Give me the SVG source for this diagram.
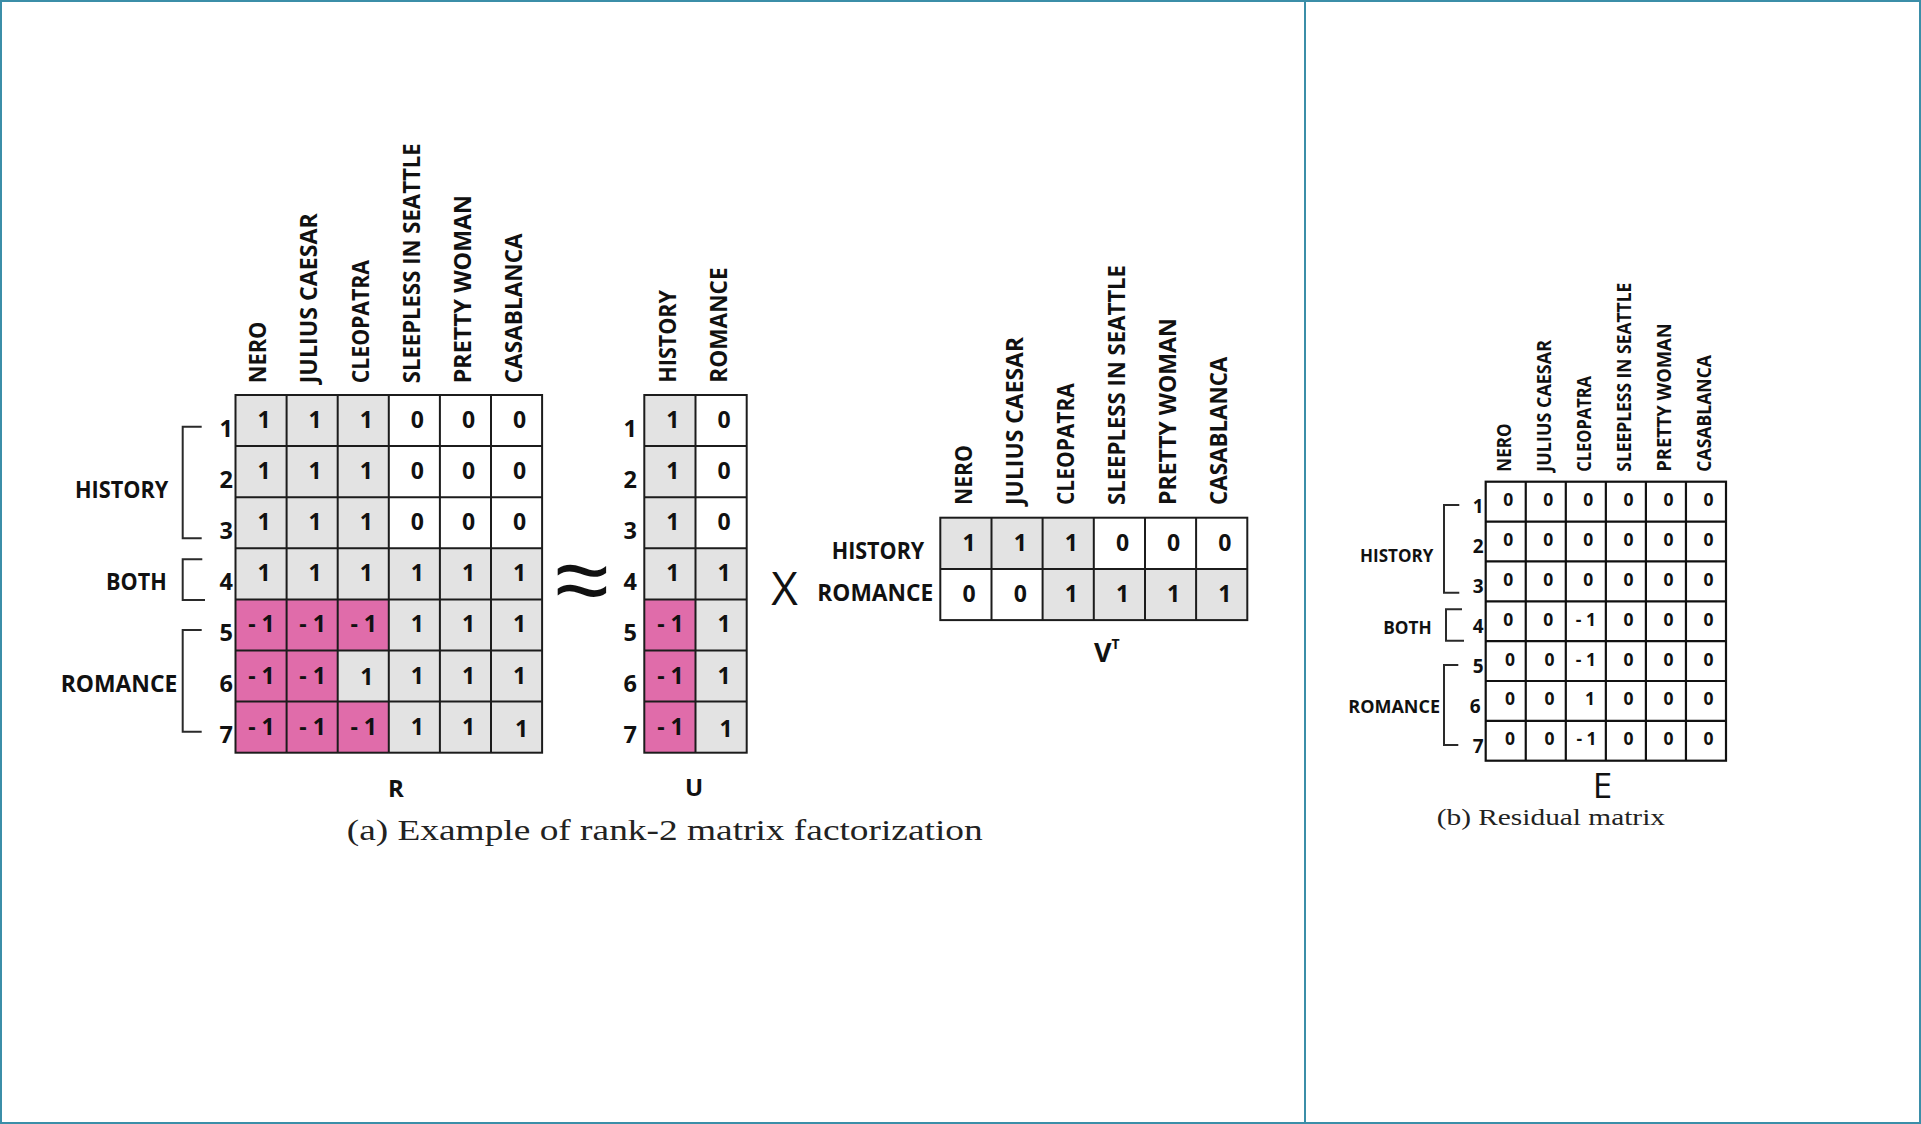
<svg xmlns="http://www.w3.org/2000/svg" width="1921" height="1124" viewBox="0 0 1921 1124">
<style>
.b{font-family:"Open Sans","Liberation Sans",sans-serif;font-weight:700;fill:#111}
.v{font-size:23px;text-anchor:middle}
.ve{font-size:17.5px;text-anchor:middle}
.rl{font-size:23.5px;text-anchor:end}
.rle{font-size:19px;text-anchor:end}
.lab{font-size:22.5px;text-anchor:end}
.labe{font-size:18px;text-anchor:end}
.h{font-size:23.5px}
.he{font-size:19.5px}
.grid{fill:none;stroke:#1c1c1c;stroke-width:2}
.gride{fill:none;stroke:#111;stroke-width:2.2}
.br{fill:none;stroke:#2a2a2a;stroke-width:2}
.grey{fill:#e3e3e3}
.pink{fill:#e06caa}
.cap{font-family:"Liberation Serif","Times New Roman",serif;fill:#222}
</style>
<rect x="0" y="0" width="1921" height="1124" fill="#fff"/>
<g id="frame">
<rect x="1" y="1" width="1919" height="1122" fill="none" stroke="#3b8ea8" stroke-width="2"/>
<line x1="1305" y1="0" x2="1305" y2="1124" stroke="#3b8ea8" stroke-width="2"/>
</g>

<g id="matrix-R">
<rect class="grey" x="235.5" y="395" width="306.6" height="357.7"/>
<rect fill="#fff" x="388.8" y="395" width="153.3" height="153.3"/>
<path class="pink" d="M235.5,599.4H388.8V650.5H337.7V701.6H388.8V752.7H235.5Z"/>
<rect class="grid" x="235.5" y="395" width="306.6" height="357.7"/>
<path class="grid" d="M286.6,395V752.7M337.7,395V752.7M388.8,395V752.7M439.9,395V752.7M491,395V752.7M235.5,446.1H542.1M235.5,497.2H542.1M235.5,548.3H542.1M235.5,599.4H542.1M235.5,650.5H542.1M235.5,701.6H542.1"/>
<g class="b h">
<text transform="translate(266,383.3) rotate(-90)" textLength="61.7" lengthAdjust="spacingAndGlyphs">NERO</text>
<text transform="translate(317,383.3) rotate(-90)" textLength="170" lengthAdjust="spacingAndGlyphs">JULIUS CAESAR</text>
<text transform="translate(368.5,383.3) rotate(-90)" textLength="123.3" lengthAdjust="spacingAndGlyphs">CLEOPATRA</text>
<text transform="translate(419.5,383.3) rotate(-90)" textLength="240" lengthAdjust="spacingAndGlyphs">SLEEPLESS IN SEATTLE</text>
<text transform="translate(470.5,383.3) rotate(-90)" textLength="188.3" lengthAdjust="spacingAndGlyphs">PRETTY WOMAN</text>
<text transform="translate(521.5,383.3) rotate(-90)" textLength="150" lengthAdjust="spacingAndGlyphs">CASABLANCA</text>
</g>
<g class="b rl">
<text x="233" y="436.7">1</text><text x="233" y="487.8">2</text><text x="233" y="538.9">3</text><text x="233" y="590">4</text><text x="233" y="641.1">5</text><text x="233" y="692.2">6</text><text x="233" y="743.3">7</text>
</g>
<g class="b v">
<text x="264" y="428">1</text><text x="315.2" y="428">1</text><text x="366.3" y="428">1</text><text x="417.4" y="428">0</text><text x="468.5" y="428">0</text><text x="519.6" y="428">0</text>
<text x="264" y="479.1">1</text><text x="315.2" y="479.1">1</text><text x="366.3" y="479.1">1</text><text x="417.4" y="479.1">0</text><text x="468.5" y="479.1">0</text><text x="519.6" y="479.1">0</text>
<text x="264" y="530.2">1</text><text x="315.2" y="530.2">1</text><text x="366.3" y="530.2">1</text><text x="417.4" y="530.2">0</text><text x="468.5" y="530.2">0</text><text x="519.6" y="530.2">0</text>
<text x="264" y="581.3">1</text><text x="315.2" y="581.3">1</text><text x="366.3" y="581.3">1</text><text x="417.4" y="581.3">1</text><text x="468.5" y="581.3">1</text><text x="519.6" y="581.3">1</text>
<text x="261.5" y="632.4">- 1</text><text x="312.6" y="632.4">- 1</text><text x="363.7" y="632.4">- 1</text><text x="417.4" y="632.4">1</text><text x="468.5" y="632.4">1</text><text x="519.6" y="632.4">1</text>
<text x="261.5" y="683.5">- 1</text><text x="312.6" y="683.5">- 1</text><text x="366.8" y="685">1</text><text x="417.4" y="683.5">1</text><text x="468.5" y="683.5">1</text><text x="519.6" y="683.5">1</text>
<text x="261.5" y="734.6">- 1</text><text x="312.6" y="734.6">- 1</text><text x="363.7" y="734.6">- 1</text><text x="417.4" y="734.6">1</text><text x="468.5" y="734.6">1</text><text x="521.6" y="736.6">1</text>
</g>
<text class="b" x="396" y="797" font-size="24" text-anchor="middle">R</text>
</g>

<g id="groups-R">
<path class="br" d="M201.7,426.7H182.7V538.3H201.7M202.3,559.3H182.7V600H205M201.7,630H182.7V731.7H201.7"/>
<g class="b lab">
<text x="168.3" y="498.3" textLength="93.3" lengthAdjust="spacingAndGlyphs">HISTORY</text>
<text x="166.7" y="590" textLength="60.7" lengthAdjust="spacingAndGlyphs">BOTH</text>
<text x="177.3" y="692.3" textLength="116.6" lengthAdjust="spacingAndGlyphs">ROMANCE</text>
</g>
</g>

<g id="approx">
<text x="582" y="613" font-family="Noto Sans,DejaVu Sans,sans-serif" font-weight="300" font-size="98" text-anchor="middle" fill="#111">≈</text>
</g>

<g id="matrix-U">
<rect class="grey" x="644.3" y="395" width="102.4" height="357.7"/>
<rect fill="#fff" x="695.5" y="395" width="51.2" height="153.3"/>
<rect class="pink" x="644.3" y="599.4" width="51.2" height="153.3"/>
<rect class="grid" x="644.3" y="395" width="102.4" height="357.7"/>
<path class="grid" d="M695.5,395V752.7M644.3,446.1H746.7M644.3,497.2H746.7M644.3,548.3H746.7M644.3,599.4H746.7M644.3,650.5H746.7M644.3,701.6H746.7"/>
<g class="b h">
<text transform="translate(676,382.7) rotate(-90)" textLength="92.7" lengthAdjust="spacingAndGlyphs">HISTORY</text>
<text transform="translate(726.5,382.7) rotate(-90)" textLength="115.4" lengthAdjust="spacingAndGlyphs">ROMANCE</text>
</g>
<g class="b rl">
<text x="637" y="436.7">1</text><text x="637" y="487.8">2</text><text x="637" y="538.9">3</text><text x="637" y="590">4</text><text x="637" y="641.1">5</text><text x="637" y="692.2">6</text><text x="637" y="743.3">7</text>
</g>
<g class="b v">
<text x="672.9" y="428">1</text><text x="724.1" y="428">0</text>
<text x="672.9" y="479.1">1</text><text x="724.1" y="479.1">0</text>
<text x="672.9" y="530.2">1</text><text x="724.1" y="530.2">0</text>
<text x="672.9" y="581.3">1</text><text x="724.1" y="581.3">1</text>
<text x="670.4" y="632.4">- 1</text><text x="724.1" y="632.4">1</text>
<text x="670.4" y="683.5">- 1</text><text x="724.1" y="683.5">1</text>
<text x="670.4" y="734.6">- 1</text><text x="726" y="736.6">1</text>
</g>
<text class="b" x="694" y="796" font-size="24" text-anchor="middle">U</text>
</g>

<g id="times">
<text x="784.5" y="605" font-family="Open Sans,sans-serif" font-size="46" text-anchor="middle" fill="#111">X</text>
</g>

<g id="matrix-VT">
<rect fill="#fff" x="940.3" y="517.7" width="307" height="102.4"/>
<rect class="grey" x="940.3" y="517.7" width="153.5" height="51.2"/>
<rect class="grey" x="1042.6" y="568.9" width="204.7" height="51.2"/>
<rect class="grid" x="940.3" y="517.7" width="307" height="102.4"/>
<path class="grid" d="M991.5,517.7V620.1M1042.6,517.7V620.1M1093.8,517.7V620.1M1145,517.7V620.1M1196.1,517.7V620.1M940.3,568.9H1247.3"/>
<g class="b h">
<text transform="translate(971.5,505) rotate(-90)" textLength="60" lengthAdjust="spacingAndGlyphs">NERO</text>
<text transform="translate(1022.5,505) rotate(-90)" textLength="168" lengthAdjust="spacingAndGlyphs">JULIUS CAESAR</text>
<text transform="translate(1073.7,505) rotate(-90)" textLength="121.7" lengthAdjust="spacingAndGlyphs">CLEOPATRA</text>
<text transform="translate(1124.9,505) rotate(-90)" textLength="240" lengthAdjust="spacingAndGlyphs">SLEEPLESS IN SEATTLE</text>
<text transform="translate(1176,505) rotate(-90)" textLength="186.7" lengthAdjust="spacingAndGlyphs">PRETTY WOMAN</text>
<text transform="translate(1227.2,505) rotate(-90)" textLength="148.3" lengthAdjust="spacingAndGlyphs">CASABLANCA</text>
</g>
<g class="b lab">
<text x="924.3" y="559.3" textLength="92.6" lengthAdjust="spacingAndGlyphs">HISTORY</text>
<text x="933.3" y="600.7" textLength="116" lengthAdjust="spacingAndGlyphs">ROMANCE</text>
</g>
<g class="b v">
<text x="969.2" y="550.7">1</text><text x="1020.3" y="550.7">1</text><text x="1071.4" y="550.7">1</text><text x="1122.6" y="550.7">0</text><text x="1173.7" y="550.7">0</text><text x="1224.9" y="550.7">0</text>
<text x="969.2" y="601.9">0</text><text x="1020.3" y="601.9">0</text><text x="1071.4" y="601.9">1</text><text x="1122.6" y="601.9">1</text><text x="1173.7" y="601.9">1</text><text x="1224.9" y="601.9">1</text>
</g>
<text class="b" x="1094" y="662" font-size="27">V<tspan font-size="14" dy="-13">T</tspan></text>
</g>

<g id="caption-a">
<text class="cap" x="346.7" y="840" font-size="30" textLength="636" lengthAdjust="spacingAndGlyphs">(a) Example of rank-2 matrix factorization</text>
</g>

<g id="matrix-E">
<rect fill="#fff" x="1485.7" y="481.7" width="240.3" height="279"/>
<rect class="gride" x="1485.7" y="481.7" width="240.3" height="279"/>
<path class="gride" d="M1525.75,481.7V760.7M1565.8,481.7V760.7M1605.85,481.7V760.7M1645.9,481.7V760.7M1685.95,481.7V760.7M1485.7,521.6H1726M1485.7,561.4H1726M1485.7,601.3H1726M1485.7,641.2H1726M1485.7,681H1726M1485.7,720.9H1726"/>
<g class="b he">
<text transform="translate(1511,471.7) rotate(-90)" textLength="48.3" lengthAdjust="spacingAndGlyphs">NERO</text>
<text transform="translate(1551,471.7) rotate(-90)" textLength="131.7" lengthAdjust="spacingAndGlyphs">JULIUS CAESAR</text>
<text transform="translate(1590.5,471.7) rotate(-90)" textLength="95.7" lengthAdjust="spacingAndGlyphs">CLEOPATRA</text>
<text transform="translate(1631,471.7) rotate(-90)" textLength="189" lengthAdjust="spacingAndGlyphs">SLEEPLESS IN SEATTLE</text>
<text transform="translate(1671,471.7) rotate(-90)" textLength="148.3" lengthAdjust="spacingAndGlyphs">PRETTY WOMAN</text>
<text transform="translate(1710.5,471.7) rotate(-90)" textLength="116.7" lengthAdjust="spacingAndGlyphs">CASABLANCA</text>
</g>
<g class="b rle">
<text x="1483.5" y="513.3">1</text><text x="1483.5" y="553.2">2</text><text x="1483.5" y="593.1">3</text><text x="1483.5" y="633.4">4</text><text x="1483.5" y="673.4">5</text><text x="1480.5" y="713.3">6</text><text x="1483.5" y="753.1">7</text>
</g>
<g class="b ve">
<text x="1508.2" y="506">0</text><text x="1548.3" y="506">0</text><text x="1588.3" y="506">0</text><text x="1628.4" y="506">0</text><text x="1668.4" y="506">0</text><text x="1708.5" y="506">0</text>
<text x="1508.2" y="545.9">0</text><text x="1548.3" y="545.9">0</text><text x="1588.3" y="545.9">0</text><text x="1628.4" y="545.9">0</text><text x="1668.4" y="545.9">0</text><text x="1708.5" y="545.9">0</text>
<text x="1508.2" y="585.7">0</text><text x="1548.3" y="585.7">0</text><text x="1588.3" y="585.7">0</text><text x="1628.4" y="585.7">0</text><text x="1668.4" y="585.7">0</text><text x="1708.5" y="585.7">0</text>
<text x="1508.2" y="625.6">0</text><text x="1548.3" y="625.6">0</text><text x="1585.8" y="625.6">- 1</text><text x="1628.4" y="625.6">0</text><text x="1668.4" y="625.6">0</text><text x="1708.5" y="625.6">0</text>
<text x="1510" y="665.5">0</text><text x="1549.5" y="665.5">0</text><text x="1585.8" y="665.5">- 1</text><text x="1628.4" y="665.5">0</text><text x="1668.4" y="665.5">0</text><text x="1708.5" y="665.5">0</text>
<text x="1510" y="705.3">0</text><text x="1549.5" y="705.3">0</text><text x="1590" y="705.3">1</text><text x="1628.4" y="705.3">0</text><text x="1668.4" y="705.3">0</text><text x="1708.5" y="705.3">0</text>
<text x="1510" y="745.2">0</text><text x="1549.5" y="745.2">0</text><text x="1586.5" y="745.2">- 1</text><text x="1628.4" y="745.2">0</text><text x="1668.4" y="745.2">0</text><text x="1708.5" y="745.2">0</text>
</g>
<text x="1602.5" y="798" font-family="Open Sans,sans-serif" font-size="35" text-anchor="middle" fill="#111">E</text>
</g>

<g id="groups-E">
<path class="br" d="M1459.3,505H1444V592.7H1459.3M1462,609.3H1446V640.7H1464M1458.3,665H1444V745H1458.3"/>
<g class="b labe">
<text x="1433.3" y="561.7" textLength="73.3" lengthAdjust="spacingAndGlyphs">HISTORY</text>
<text x="1431.7" y="634" textLength="48.4" lengthAdjust="spacingAndGlyphs">BOTH</text>
<text x="1440" y="713.3" textLength="91.7" lengthAdjust="spacingAndGlyphs">ROMANCE</text>
</g>
</g>

<g id="caption-b">
<text class="cap" x="1436.7" y="825" font-size="24" textLength="228.3" lengthAdjust="spacingAndGlyphs">(b) Residual matrix</text>
</g>
</svg>
